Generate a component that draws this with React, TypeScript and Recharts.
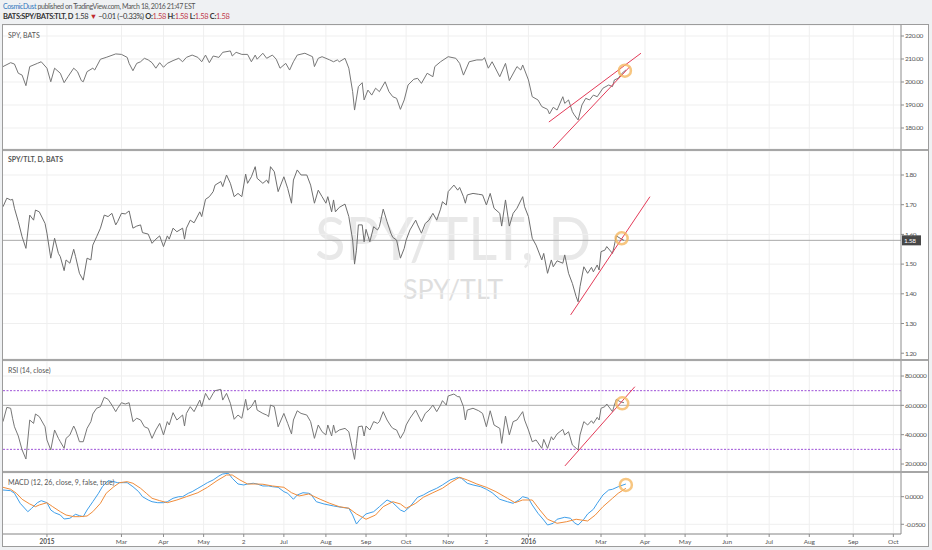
import React from 'react';
import { LineChart, Line, XAxis, YAxis, CartesianGrid, ReferenceLine, ReferenceDot } from 'recharts';

// x = trading-day index counted from the left edge of the chart, y = value
const spyClose: [number, number][] = [
  [0, 206.7], [4, 208.4], [6, 207.8], [8, 203.8], [10, 203], [12, 198.4], [14, 206.7], [18, 208.1], [20, 208.8],
  [23, 206], [25, 200.1], [27, 206], [30, 203.8], [32, 199.7], [34, 202.3], [37, 206], [39, 204.5], [41, 200.6],
  [42, 200.1], [44, 204.5], [47, 206], [48, 205.2], [51, 209.9], [54, 210.7], [59, 212.2], [62, 212], [65, 210.7],
  [66, 208.1], [68, 204.9], [70, 208.1], [72, 208.8], [74, 210.3], [76, 209.6], [78, 208.4], [80, 206], [82, 208.4],
  [84, 206.4], [86, 208.1], [89, 209.3], [92, 210.3], [94, 208.8], [96, 210.7], [99, 211.7], [102, 210.7], [104, 208.8],
  [106, 211.7], [108, 208.4], [110, 211.3], [113, 210.7], [115, 212.9], [119, 213.5], [120, 211.3], [122, 212.9],
  [125, 212], [128, 212], [130, 208.8], [132, 211.7], [133, 209.9], [136, 212.5], [138, 210.3], [141, 211.7],
  [143, 209.9], [145, 206], [148, 208.1], [150, 205.2], [152, 208.8], [154, 211.7], [158, 212.5], [162, 211],
  [163, 206.7], [165, 210.3], [167, 211], [171, 209.6], [173, 208.8], [175, 209.6], [176, 208.8], [179, 210.3],
  [181, 206], [183, 195.8], [184, 187.8], [186, 198], [188, 199.7], [189, 192.2], [191, 196.5], [193, 194.3],
  [195, 197.3], [197, 195.8], [200, 200.1], [202, 195.8], [204, 193.6], [206, 192.9], [208, 188.1], [210, 192.2],
  [212, 198.7], [215, 201.2], [217, 201.6], [219, 199.4], [222, 203.8], [225, 202.3], [226, 206.7], [229, 208.8],
  [233, 211], [237, 210.3], [239, 208.1], [241, 203], [244, 208.8], [248, 209.6], [251, 209.6], [252, 210.6],
  [254, 206], [256, 208.8], [260, 202.3], [263, 208.1], [265, 200.6], [269, 206.7], [271, 205.2], [272, 207.4],
  [275, 200.9], [277, 193.6], [280, 192.2], [282, 189.3], [285, 188.1], [286, 186.1], [288, 189], [290, 187.8],
  [293, 193.6], [294, 190.7], [296, 192.2], [298, 187.1], [299, 185.7], [301, 183.5], [303, 190], [305, 192.9],
  [307, 192.2], [309, 194.3], [311, 193.6], [314, 197.3], [317, 198.7], [319, 198], [320, 200.9], [322, 201.6],
  [324, 203.8], [326, 205.2],
];

const ratioClose: [number, number][] = [
  [0, 1.693], [2, 1.722], [4, 1.716], [5, 1.718], [6, 1.688], [8, 1.643], [10, 1.592], [12, 1.553], [14, 1.665],
  [16, 1.648], [17, 1.682], [19, 1.676], [22, 1.637], [23, 1.604], [25, 1.52], [27, 1.587], [29, 1.536], [30, 1.525],
  [32, 1.478], [33, 1.514], [35, 1.503], [37, 1.55], [38, 1.525], [40, 1.469], [42, 1.446], [44, 1.52], [46, 1.514],
  [47, 1.564], [49, 1.592], [51, 1.621], [53, 1.665], [55, 1.66], [57, 1.671], [59, 1.632], [60, 1.643], [62, 1.671],
  [64, 1.669], [66, 1.679], [68, 1.621], [70, 1.628], [72, 1.632], [73, 1.606], [76, 1.601], [78, 1.57], [80, 1.584],
  [82, 1.595], [84, 1.559], [86, 1.595], [87, 1.584], [89, 1.621], [91, 1.609], [94, 1.621], [95, 1.584], [96, 1.621],
  [98, 1.648], [100, 1.639], [103, 1.676], [104, 1.66], [106, 1.718], [108, 1.727], [110, 1.744], [111, 1.766],
  [114, 1.778], [115, 1.761], [117, 1.8], [119, 1.772], [121, 1.727], [123, 1.738], [125, 1.727], [127, 1.803],
  [128, 1.772], [130, 1.794], [132, 1.828], [133, 1.789], [136, 1.772], [138, 1.783], [139, 1.772], [140, 1.828],
  [142, 1.811], [144, 1.744], [147, 1.794], [149, 1.755], [151, 1.705], [152, 1.783], [154, 1.817], [156, 1.8],
  [159, 1.8], [161, 1.766], [163, 1.705], [165, 1.749], [167, 1.727], [169, 1.705], [170, 1.727], [172, 1.676],
  [173, 1.716], [174, 1.676], [176, 1.691], [179, 1.702], [181, 1.66], [183, 1.581], [184, 1.5], [185, 1.547],
  [186, 1.632], [188, 1.632], [189, 1.575], [190, 1.617], [192, 1.575], [194, 1.626], [196, 1.615], [197, 1.626],
  [199, 1.685], [201, 1.643], [203, 1.604], [204, 1.59], [206, 1.581], [208, 1.52], [210, 1.553], [211, 1.581],
  [213, 1.615], [216, 1.648], [217, 1.632], [219, 1.604], [221, 1.637], [223, 1.648], [225, 1.671], [227, 1.648],
  [229, 1.685], [230, 1.71], [232, 1.699], [233, 1.744], [236, 1.766], [238, 1.749], [239, 1.758], [241, 1.727],
  [242, 1.705], [243, 1.733], [246, 1.738], [249, 1.735], [251, 1.733], [253, 1.699], [255, 1.738], [257, 1.688],
  [260, 1.671], [261, 1.628], [263, 1.716], [265, 1.628], [267, 1.671], [269, 1.688], [272, 1.727], [273, 1.693],
  [275, 1.66], [277, 1.587], [279, 1.564], [282, 1.514], [283, 1.536], [285, 1.469], [287, 1.514], [288, 1.491],
  [290, 1.511], [293, 1.503], [294, 1.531], [296, 1.469], [298, 1.435], [300, 1.39], [301, 1.373], [302, 1.424],
  [304, 1.491], [306, 1.469], [308, 1.489], [309, 1.474], [311, 1.497], [312, 1.48], [313, 1.542], [315, 1.547],
  [316, 1.559], [319, 1.536], [320, 1.564], [321, 1.595], [323, 1.587], [325, 1.58],
];

const rsi14: [number, number][] = [
  [0, 48.9], [2, 58.6], [4, 58], [5, 51.2], [6, 45.4], [8, 39.1], [10, 29.6], [12, 23.4], [14, 50], [16, 47.7],
  [17, 54.1], [19, 52.3], [22, 45.4], [23, 36.4], [25, 29.6], [27, 43.2], [29, 37.5], [30, 35.2], [32, 30.7],
  [33, 37.5], [35, 39.8], [37, 45.9], [38, 43.2], [40, 35.2], [42, 35.2], [44, 44.3], [46, 48.9], [47, 54.1],
  [49, 58], [51, 59.1], [53, 65.5], [55, 64.1], [57, 60.2], [59, 55.7], [60, 58], [62, 61.8], [64, 60.9], [66, 61.8],
  [68, 48.9], [70, 51.2], [72, 50], [74, 45.4], [76, 44.3], [78, 37.5], [80, 43.2], [82, 47.7], [84, 39.8],
  [86, 48.9], [87, 46.6], [89, 55], [91, 50], [94, 53.4], [95, 45.9], [96, 54.5], [98, 59.1], [100, 55.7],
  [103, 63.6], [104, 59.1], [106, 68.2], [108, 63.6], [110, 68.2], [111, 70], [114, 70.9], [115, 63.6], [117, 68.2],
  [119, 61.4], [121, 50.5], [123, 53.4], [125, 51.2], [127, 64.1], [128, 56.8], [130, 59.1], [132, 63.6],
  [133, 56.8], [136, 54.5], [138, 53.4], [139, 52.3], [140, 60.2], [142, 59.1], [144, 45.4], [147, 54.5],
  [149, 47.7], [151, 40.5], [152, 50], [154, 56.3], [156, 54.5], [159, 53.4], [161, 48.9], [163, 37.5], [165, 46.6],
  [167, 42], [169, 39.8], [170, 46.6], [172, 39.1], [173, 46.6], [174, 41.3], [176, 43.2], [179, 44.3], [181, 42],
  [183, 29.6], [184, 23.2], [185, 34.1], [186, 45.4], [188, 45.9], [189, 39.1], [190, 45.9], [192, 43.2],
  [194, 48.9], [196, 47.7], [197, 48.9], [199, 55.7], [201, 50], [203, 45.9], [204, 44.3], [206, 43.2], [208, 37.5],
  [210, 42], [211, 46.6], [213, 51.2], [216, 56.8], [217, 54.1], [219, 48.9], [221, 54.5], [223, 56.8], [225, 60.2],
  [227, 55.7], [229, 60.2], [230, 63.2], [232, 60.2], [233, 66.4], [236, 67.7], [238, 65.9], [239, 65.9],
  [241, 59.1], [242, 50], [243, 56.8], [246, 58], [249, 56.3], [251, 54.5], [253, 45.4], [255, 56.3], [257, 46.6],
  [260, 44.3], [261, 34.1], [263, 52.7], [265, 39.8], [267, 48.9], [269, 50], [272, 55.7], [273, 50], [275, 43.2],
  [277, 35.2], [279, 36.4], [282, 30.7], [283, 36.8], [285, 30.7], [287, 38.6], [288, 36.4], [290, 40.5],
  [293, 43.6], [294, 39.8], [296, 42], [298, 33], [300, 30.7], [301, 29.6], [302, 39.8], [304, 48.9], [306, 46.6],
  [308, 49.5], [309, 47.7], [311, 51.8], [312, 50], [313, 58], [315, 59.1], [316, 60.9], [319, 55.7], [320, 60.2],
  [321, 64.1], [323, 62.5], [325, 61.8],
];

const macdLine: [number, number][] = [
  [0, 0.0121], [4, 0.0109], [6, 0.0062], [9, -0.012], [13, -0.0272], [15, -0.021], [18, -0.0109], [20, -0.0072],
  [23, -0.0109], [25, -0.0241], [27, -0.029], [30, -0.0332], [32, -0.0404], [35, -0.0391], [38, -0.0319],
  [40, -0.0344], [42, -0.0362], [44, -0.0241], [47, -0.0091], [50, 0.0062], [52, 0.0181], [55, 0.029], [58, 0.0272],
  [60, 0.0254], [63, 0.0254], [65, 0.0254], [68, 0.0181], [71, 0.0091], [73, 0], [76, -0.006], [78, -0.0091],
  [81, -0.0109], [84, -0.0109], [86, -0.0091], [89, -0.0029], [92, 0], [94, 0], [97, 0.0062], [99, 0.0091],
  [102, 0.0152], [105, 0.0212], [107, 0.0254], [110, 0.0303], [113, 0.0375], [115, 0.0411], [118, 0.0424],
  [120, 0.0333], [123, 0.023], [126, 0.0212], [128, 0.023], [131, 0.0243], [133, 0.023], [136, 0.0194],
  [139, 0.0194], [141, 0.0181], [144, 0.017], [147, 0.0091], [149, 0.0062], [152, -0.0047], [154, 0.0031],
  [157, 0.0072], [160, 0.0062], [161, 0.0049], [164, -0.0091], [168, -0.0132], [173, -0.0168], [177, -0.0192],
  [181, -0.021], [183, -0.0332], [185, -0.0495], [187, -0.0409], [190, -0.0313], [194, -0.0272], [197, -0.0181],
  [201, -0.006], [204, -0.0109], [208, -0.0241], [210, -0.0272], [213, -0.0181], [217, -0.0011], [220, 0.0031],
  [223, 0.0091], [227, 0.0152], [230, 0.0212], [234, 0.0303], [238, 0.0351], [240, 0.0333], [243, 0.0243],
  [246, 0.0212], [250, 0.0181], [253, 0.0134], [256, 0.0072], [260, -0.0047], [264, -0.0091], [267, -0.012],
  [270, -0.006], [272, 0], [275, -0.0029], [277, -0.015], [280, -0.0301], [283, -0.0422], [285, -0.0513],
  [288, -0.0482], [290, -0.0409], [294, -0.0373], [297, -0.0391], [299, -0.0471], [301, -0.0513], [304, -0.0409],
  [306, -0.0313], [309, -0.0228], [311, -0.012], [314, 0.0031], [317, 0.0121], [319, 0.0134], [322, 0.0181],
  [326, 0.023],
];

const signalLine: [number, number][] = [
  [0, 0.017], [4, 0.0134], [7, 0.0062], [10, -0.0047], [14, -0.0132], [17, -0.0181], [19, -0.015], [23, -0.0109],
  [26, -0.0181], [30, -0.0272], [33, -0.0332], [37, -0.0362], [40, -0.0362], [44, -0.035], [47, -0.0272],
  [51, -0.012], [54, 0.0062], [58, 0.0181], [61, 0.0254], [65, 0.0272], [68, 0.0243], [72, 0.0152], [75, 0.0062],
  [78, -0.0029], [82, -0.0072], [86, -0.0109], [91, -0.006], [96, 0], [102, 0.0072], [107, 0.017], [112, 0.029],
  [117, 0.0393], [120, 0.0393], [124, 0.0303], [128, 0.023], [132, 0.023], [136, 0.0225], [141, 0.0194],
  [147, 0.017], [151, 0.0072], [155, 0.0013], [160, 0.0049], [166, -0.0047], [171, -0.012], [176, -0.0181],
  [181, -0.021], [185, -0.0313], [190, -0.0409], [195, -0.0332], [199, -0.0181], [204, -0.0091], [208, -0.0132],
  [211, -0.021], [216, -0.012], [220, -0.0011], [225, 0.0072], [230, 0.0152], [235, 0.0272], [239, 0.0351],
  [243, 0.0303], [248, 0.023], [253, 0.017], [258, 0.0091], [264, -0.0029], [268, -0.0109], [272, -0.006],
  [277, -0.006], [281, -0.0241], [285, -0.0409], [290, -0.0482], [295, -0.0453], [300, -0.0409], [306, -0.044],
  [310, -0.0332], [314, -0.0181], [319, -0.0029], [322, 0.0062], [326, 0.0152],
];

// hand-drawn trend lines and markers, as [day, value] pairs
const spyUpperTrend = [[285.7, 182.6], [333.9, 212.5]];
const spyLowerTrend = [[287.8, 171.2], [328.1, 206.7]];
const spyMarker = [325.5, 204.9];
const ratioTrend = [[297.1, 1.329], [338.6, 1.727]];
const ratioMarker = [323.8, 1.587];
const rsiTrend = [[294.1, 18.7], [330.7, 72.7]];
const rsiMarker = [324.1, 61.4];
const macdMarker = [326, 0.0212];

const monthTicks = [23, 62, 84, 105, 126, 147, 169, 190, 211, 233, 253, 275, 313, 336, 357, 379, 401, 422, 445, 466];
const monthLabels = ['2015', 'Mar', 'Apr', 'May', '2', 'Jul', 'Aug', 'Sep', 'Oct', 'Nov', '2', '2016', 'Mar', 'Apr', 'May', 'Jun', 'Jul', 'Aug', 'Sep', 'Oct'];

const spyTicks = [180, 190, 200, 210, 220];
const ratioTicks = [1.2, 1.3, 1.4, 1.5, 1.6, 1.7, 1.8];
const rsiTicks = [20, 40, 60, 80];
const macdTicks = [-0.05, 0];
const lastRatio = 1.58;

const DAYS: [number, number] = [0, 470];
const FONT = 'Lato, "Open Sans", sans-serif';
const GRID = '#efefef';
const TREND = '#e33b58';
const MARK = '#f5b862';

const rows = (pts: [number, number][]) => pts.map(([d, v]) => ({ d, v }));
const seg = (p: number[][]) => [{ x: p[0][0], y: p[0][1] }, { x: p[1][0], y: p[1][1] }];

const axisTick = { fontSize: 6.5, fill: '#555', fontFamily: FONT, letterSpacing: -0.4 };

const TimeTick = (props: any) => {
  const { x, y, payload } = props;
  const label = monthLabels[monthTicks.indexOf(payload.value)];
  return (
    <text x={x} y={y} dy="0.71em" textAnchor="middle" fontSize={6.5} fill="#555" fontFamily={FONT} fontWeight={label && label.length === 4 ? 700 : 400}>
      {label}
    </text>
  );
};

const PriceTag = (props: any) => {
  const vb = props.viewBox || {};
  const x = vb.x + vb.width;
  const y = vb.y;
  return (
    <g>
      <rect x={x + 1} y={y - 5} width={19} height={10} fill="#474747" />
      <text x={x + 3} y={y + 2.5} fontSize={6.5} letterSpacing={-0.3} fill="#fff" fontFamily={FONT}>{lastRatio.toFixed(2)}</text>
    </g>
  );
};

const monthLines = () => monthTicks.map(t => <ReferenceLine key={'m' + t} x={t} stroke={GRID} ifOverflow="visible" />);

const paneLabel = (text: string, top: number, bold = false) => (
  <div style={{ position: 'absolute', left: 8, top, fontSize: 7, color: '#555', fontWeight: bold ? 700 : 400, whiteSpace: 'nowrap' }}>{text}</div>
);

export default function App() {
  const W = 925;
  const margin = { top: 0, right: 0, bottom: 0, left: 0 };
  return (
    <div style={{ position: 'absolute', left: 0, top: 0, width: 932, height: 550, background: '#eff1f3', fontFamily: FONT, overflow: 'hidden' }}>
      {/* header */}
      <div style={{ position: 'absolute', left: 3, top: 2, fontSize: 7, letterSpacing: -0.4, color: '#555', whiteSpace: 'nowrap' }}>
        <span style={{ color: '#2f78bd' }}>CosmicDust</span> published on TradingView.com, March 18, 2016 21:47 EST
      </div>
      <div style={{ position: 'absolute', left: 3, top: 12, fontSize: 7.5, letterSpacing: -0.35, color: '#333', whiteSpace: 'nowrap' }}>
        <b>BATS:SPY/BATS:TLT, D</b> 1.58 <span style={{ color: '#c0282d' }}>▼</span> −0.01 (−0.33%){' '}
        <b>O:</b><span style={{ color: '#c0394a' }}>1.58</span>{' '}
        <b>H:</b><span style={{ color: '#c0394a' }}>1.58</span>{' '}
        <b>L:</b><span style={{ color: '#c0394a' }}>1.58</span>{' '}
        <b>C:</b><span style={{ color: '#c0394a' }}>1.58</span>
      </div>

      {/* chart frame */}
      <div style={{ position: 'absolute', left: 3, top: 25, width: 925, height: 521, background: '#fff' }} />

      {/* watermark */}
      <svg width={932} height={550} style={{ position: 'absolute', left: 0, top: 0 }}>
        <text x={315} y={260} fontSize={60} fill="#e8e8e8" fontFamily={FONT} textLength={276} lengthAdjust="spacingAndGlyphs">SPY/TLT, D</text>
        <text x={403} y={299} fontSize={27} fill="#dedede" fontFamily={FONT} textLength={100} lengthAdjust="spacingAndGlyphs">SPY/TLT</text>
      </svg>

      {/* SPY */}
      <div style={{ position: 'absolute', left: 3, top: 25 }}>
        <LineChart width={W} height={124} margin={margin}>
          <CartesianGrid vertical={false} stroke={GRID} />
          {monthLines()}
          <XAxis type="number" dataKey="d" domain={DAYS} allowDataOverflow hide />
          <YAxis orientation="right" width={27} domain={[170.87, 224.78]} allowDataOverflow ticks={spyTicks}
            tickFormatter={(v: number) => v.toFixed(2)} tick={axisTick} stroke="#8c8c8c" tickSize={3} tickMargin={1} />
          <Line data={rows(spyClose)} dataKey="v" stroke="#777" strokeWidth={1} dot={false} isAnimationActive={false} />
          <ReferenceLine segment={seg(spyUpperTrend)} stroke={TREND} strokeWidth={1} ifOverflow="visible" />
          <ReferenceLine segment={seg(spyLowerTrend)} stroke={TREND} strokeWidth={1} ifOverflow="visible" />
          <ReferenceDot x={spyMarker[0]} y={spyMarker[1]} r={6} fill="none" stroke={MARK} strokeWidth={2.5} strokeOpacity={0.8} />
        </LineChart>
      </div>

      {/* SPY/TLT */}
      <div style={{ position: 'absolute', left: 3, top: 151 }}>
        <LineChart width={W} height={208} margin={margin}>
          <CartesianGrid vertical={false} stroke={GRID} />
          {monthLines()}
          <XAxis type="number" dataKey="d" domain={DAYS} allowDataOverflow hide />
          <YAxis orientation="right" width={27} domain={[1.1805, 1.8808]} allowDataOverflow ticks={ratioTicks}
            tickFormatter={(v: number) => v.toFixed(2)} tick={axisTick} stroke="#8c8c8c" tickSize={3} tickMargin={1} />
          <ReferenceLine y={lastRatio} stroke="#a9a9a9" label={<PriceTag />} />
          <Line data={rows(ratioClose)} dataKey="v" stroke="#6e6e6e" strokeWidth={1} dot={false} isAnimationActive={false} />
          <ReferenceLine segment={seg(ratioTrend)} stroke={TREND} strokeWidth={1} ifOverflow="visible" />
          <ReferenceDot x={ratioMarker[0]} y={ratioMarker[1]} r={6} fill="none" stroke={MARK} strokeWidth={2.5} strokeOpacity={0.8} />
        </LineChart>
      </div>

      {/* RSI */}
      <div style={{ position: 'absolute', left: 3, top: 361 }}>
        <LineChart width={W} height={110} margin={margin}>
          <CartesianGrid vertical={false} stroke={GRID} />
          {monthLines()}
          <XAxis type="number" dataKey="d" domain={DAYS} allowDataOverflow hide />
          <YAxis orientation="right" width={27} domain={[15.24, 90.23]} allowDataOverflow ticks={rsiTicks}
            tickFormatter={(v: number) => v.toFixed(4)} tick={axisTick} stroke="#8c8c8c" tickSize={3} tickMargin={1} />
          <ReferenceLine y={60} stroke="#b0b0b0" />
          <ReferenceLine y={70} stroke="#9d52d8" strokeDasharray="2 1.5" />
          <ReferenceLine y={30} stroke="#9d52d8" strokeDasharray="2 1.5" />
          <Line data={rows(rsi14)} dataKey="v" stroke="#777" strokeWidth={1} dot={false} isAnimationActive={false} />
          <ReferenceLine segment={seg(rsiTrend)} stroke={TREND} strokeWidth={1} ifOverflow="visible" />
          <ReferenceDot x={rsiMarker[0]} y={rsiMarker[1]} r={6} fill="none" stroke={MARK} strokeWidth={2.5} strokeOpacity={0.8} />
        </LineChart>
      </div>

      {/* MACD */}
      <div style={{ position: 'absolute', left: 3, top: 473 }}>
        <LineChart width={W} height={73} margin={margin}>
          <CartesianGrid vertical={false} stroke={GRID} />
          {monthLines()}
          <XAxis type="number" dataKey="d" domain={DAYS} allowDataOverflow ticks={monthTicks} interval={0}
            height={12} tick={<TimeTick />} stroke="#8c8c8c" tickSize={3} tickMargin={2} />
          <YAxis orientation="right" width={27} domain={[-0.0676, 0.0429]} allowDataOverflow ticks={macdTicks}
            tickFormatter={(v: number) => v.toFixed(4)} tick={axisTick} stroke="#8c8c8c" tickSize={3} tickMargin={1} />
          <Line data={rows(macdLine)} dataKey="v" stroke="#3f9fea" strokeWidth={1} dot={false} isAnimationActive={false} />
          <Line data={rows(signalLine)} dataKey="v" stroke="#f08c3a" strokeWidth={1} dot={false} isAnimationActive={false} />
          <ReferenceDot x={macdMarker[0]} y={macdMarker[1]} r={6} fill="none" stroke={MARK} strokeWidth={2.5} strokeOpacity={0.8} />
        </LineChart>
      </div>

      {/* pane titles */}
      {paneLabel('SPY, BATS', 31)}
      {paneLabel('SPY/TLT, D, BATS', 155, true)}
      {paneLabel('RSI (14, close)', 366)}
      {paneLabel('MACD (12, 26, close, 9, false, true)', 478)}

      {/* separators and frame */}
      <div style={{ position: 'absolute', left: 3, top: 149, width: 925, height: 2, background: '#a6a6a6' }} />
      <div style={{ position: 'absolute', left: 3, top: 359, width: 925, height: 2, background: '#a6a6a6' }} />
      <div style={{ position: 'absolute', left: 3, top: 471, width: 925, height: 2, background: '#a6a6a6' }} />
      <div style={{ position: 'absolute', left: 2, top: 24, width: 927, height: 523, border: '1px solid #9c9c9c', boxSizing: 'border-box' }} />
    </div>
  );
}
